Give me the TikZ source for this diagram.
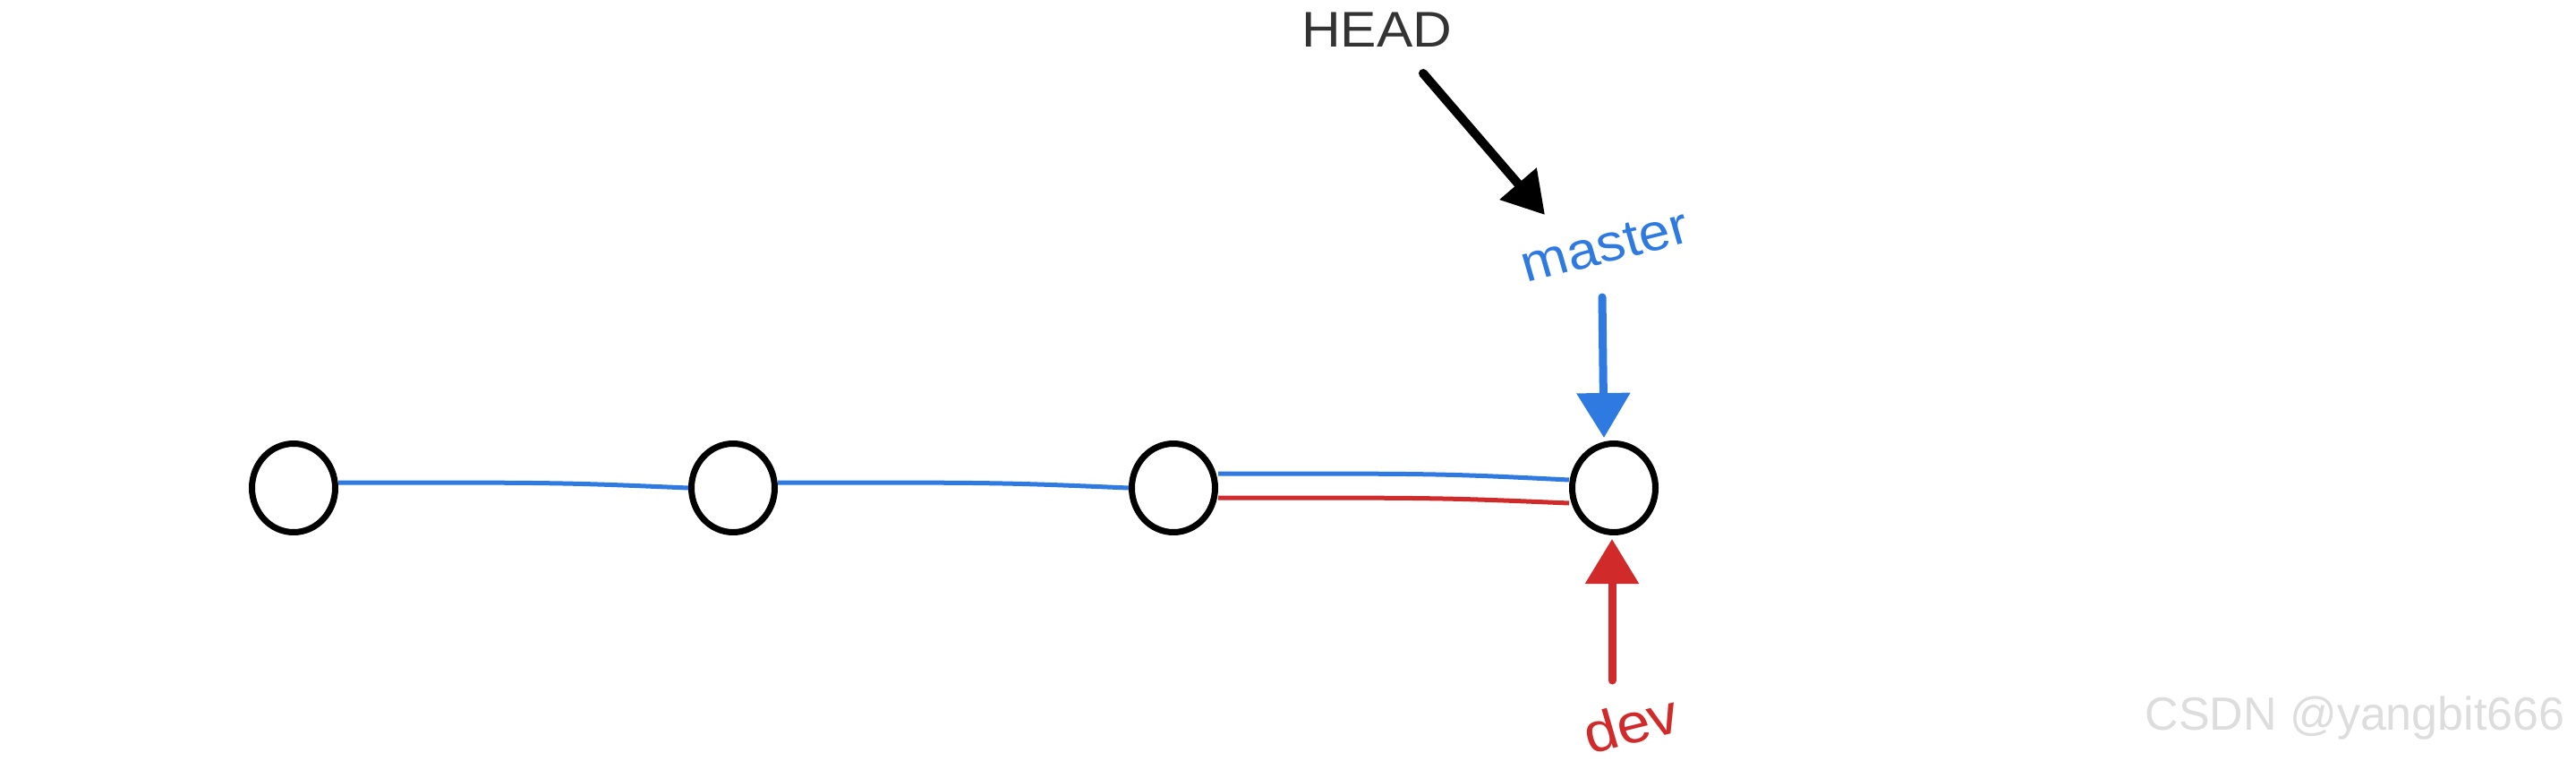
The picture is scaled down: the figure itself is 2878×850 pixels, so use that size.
\documentclass[tikz,border=0pt]{standalone}
\usepackage{fontspec}
\setmainfont{Liberation Sans}
\usetikzlibrary{arrows.meta,calc,shapes.geometric}
\definecolor{gblue}{HTML}{2E7AE0}
\definecolor{gred}{HTML}{D02A2A}
\definecolor{headgray}{HTML}{333333}
\definecolor{wmgray}{HTML}{DDDDDD}
\begin{document}
\begin{tikzpicture}[x=1pt,y=-1pt,
  commit/.style={draw=black,line width=7pt,ellipse,minimum width=93pt,minimum height=99pt,inner sep=0pt,fill=white},
  bluelink/.style={draw=gblue,line width=5pt},
  redlink/.style={draw=gred,line width=5pt},
  lbl/.style={inner sep=0pt},
  ptr/.style={line width=10pt,line cap=round,-{Triangle[length=50pt,width=58pt]}},
]
\useasboundingbox (0,0) rectangle (2878,850);
% commits
\node[commit] (c1) at (328,545) {};
\node[commit] (c2) at (819,545) {};
\node[commit] (c3) at (1311,545) {};
\node[commit] (c4) at (1803,545) {};
% links
\draw[bluelink] ($(c1.east)+(0,-6)$) .. controls ($(c1.east)+(250,-6)$) .. ($(c2.west)+(0,0)$);
\draw[bluelink] ($(c2.east)+(0,-6)$) .. controls ($(c2.east)+(250,-6)$) .. ($(c3.west)+(0,0)$);
\draw[bluelink] ($(c3.east)+(0,-16)$) .. controls ($(c3.east)+(250,-16)$) .. ($(c4.west)+(0,-9)$);
\draw[redlink] ($(c3.east)+(0,11)$) .. controls ($(c3.east)+(250,11)$) .. ($(c4.west)+(0,17)$);
% labels
\node[lbl,text=headgray,xscale=1.08,font=\fontsize{56}{60}\selectfont] (head) at (1538,33) {HEAD};
\node[lbl,text=gblue,xscale=1.08,rotate=15,font=\fontsize{58}{60}\selectfont] (master) at (1793,275) {master};
\node[lbl,text=gred,xscale=1.08,rotate=15,font=\fontsize{62}{60}\selectfont] (dev) at (1822,808) {dev};
\node[inner sep=0pt,text=wmgray,font=\fontsize{52}{60}\selectfont] (wm) at (2631,802) {CSDN @yangbit666};
% pointers
\draw[ptr,black,-{Triangle[length=46pt,width=52pt]}] ($(head)+(52,49)$) -- ($(master)+(-67,-35)$);
\draw[ptr,gblue,line width=9pt] ($(master)+(-3,57)$) -- ($(c4.north)+(-11,-3)$);
\draw[ptr,gred,line width=9pt] ($(dev)+(-21,-48)$) -- ($(c4.south)+(-2,4)$);
\end{tikzpicture}
\end{document}
